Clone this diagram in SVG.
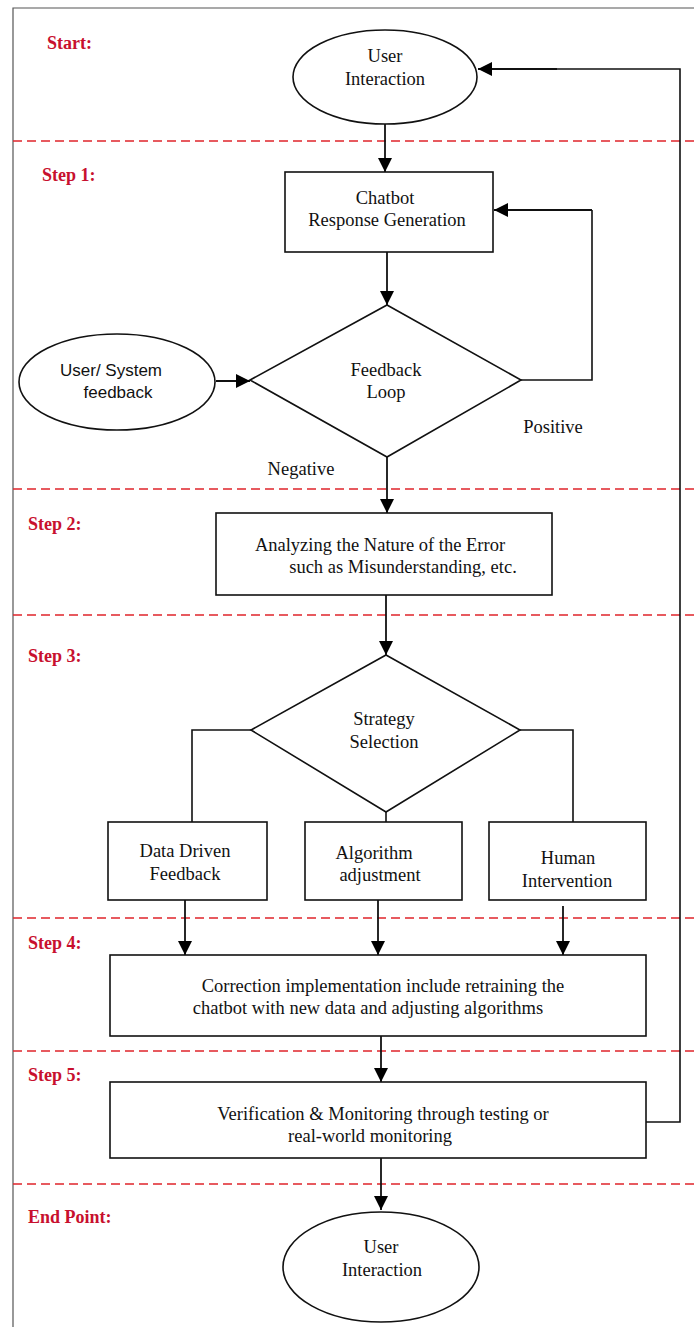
<svg xmlns="http://www.w3.org/2000/svg" width="694" height="1327" viewBox="0 0 694 1327">
<defs>
<marker id="ah" viewBox="0 0 14 14" refX="14" refY="7" markerWidth="14" markerHeight="14" markerUnits="userSpaceOnUse" orient="auto">
<path d="M0,0 L14,7 L0,14 Z" fill="#000"/>
</marker>
<style>
.t{font-family:"Liberation Serif","Times New Roman",serif;font-size:18.5px;fill:#111;text-anchor:middle}
.s{font-family:"Liberation Sans",Arial,sans-serif;font-size:17px;fill:#111;text-anchor:middle}
.lab{font-family:"Liberation Serif","Times New Roman",serif;font-size:18px;font-weight:bold;fill:#c8102e}
.shape{fill:#fff;stroke:#111;stroke-width:1.6}
.c{fill:none;stroke:#111;stroke-width:1.6}
.ca{fill:none;stroke:#111;stroke-width:1.8;marker-end:url(#ah)}
.dash{stroke:#e0252b;stroke-width:1.5;stroke-dasharray:9 5}
.border{fill:none;stroke:#555;stroke-width:1.2}
</style>
</defs>
<rect width="694" height="1327" fill="#fff"/>
<g id="frame">
<path class="border" d="M13,1327 L13,8 L694,8"/>
<line class="dash" x1="13" y1="141" x2="694" y2="141"/>
<line class="dash" x1="13" y1="489" x2="694" y2="489"/>
<line class="dash" x1="13" y1="615" x2="694" y2="615"/>
<line class="dash" x1="13" y1="918" x2="694" y2="918"/>
<line class="dash" x1="13" y1="1051" x2="694" y2="1051"/>
<line class="dash" x1="13" y1="1184" x2="694" y2="1184"/>
</g>
<g id="labels">
<text class="lab" x="47" y="49">Start:</text>
<text class="lab" x="42" y="181">Step 1:</text>
<text class="lab" x="28" y="530">Step 2:</text>
<text class="lab" x="28" y="662">Step 3:</text>
<text class="lab" x="28" y="949">Step 4:</text>
<text class="lab" x="28" y="1081">Step 5:</text>
<text class="lab" x="28" y="1223">End Point:</text>
</g>
<g id="connectors">
<line class="ca" x1="385" y1="122" x2="385" y2="172"/>
<line class="ca" x1="387" y1="252" x2="387" y2="305"/>
<path class="c" d="M521,380 L592,380 L592,210"/>
<line class="ca" x1="592" y1="210" x2="494" y2="210"/>
<line class="ca" x1="216" y1="381" x2="250" y2="381"/>
<line class="ca" x1="387" y1="457" x2="387" y2="513"/>
<line class="ca" x1="386" y1="595" x2="386" y2="655"/>
<path class="c" d="M251,730 L192,730 L192,822"/>
<path class="c" d="M520,730 L573,730 L573,822"/>
<line class="c" x1="386" y1="812" x2="386" y2="822"/>
<line class="ca" x1="185" y1="900" x2="185" y2="955"/>
<line class="ca" x1="378" y1="900" x2="378" y2="955"/>
<line class="ca" x1="563" y1="906" x2="563" y2="955"/>
<line class="ca" x1="381" y1="1036" x2="381" y2="1082"/>
<line class="ca" x1="381" y1="1158" x2="381" y2="1210"/>
<path class="c" d="M646,1122 L680,1122 L680,69 L557,69"/>
<line class="ca" x1="557" y1="69" x2="478" y2="69"/>
</g>
<g id="start">
<ellipse class="shape" cx="385" cy="77" rx="92" ry="47"/>
<text class="t" x="385" y="62">User</text>
<text class="t" x="385" y="85">Interaction</text>
</g>
<g id="chatbot">
<rect class="shape" x="285" y="172" width="208" height="80"/>
<text class="t" x="385" y="204">Chatbot</text>
<text class="t" x="387" y="226">Response Generation</text>
</g>
<g id="feedback-loop">
<path class="shape" d="M387,305 L521,380 L387,457 L250,380 Z"/>
<text class="t" x="386" y="376">Feedback</text>
<text class="t" x="386" y="398">Loop</text>
</g>
<g id="user-system-feedback">
<ellipse class="shape" cx="117" cy="382" rx="98" ry="48"/>
<text class="s" x="111" y="376">User/ System</text>
<text class="s" x="118" y="398">feedback</text>
</g>
<text class="t" x="553" y="433">Positive</text>
<text class="t" x="301" y="475">Negative</text>
<g id="analyzing">
<rect class="shape" x="216" y="513" width="336" height="82"/>
<text class="t" x="380" y="551">Analyzing the Nature of the Error</text>
<text class="t" x="403" y="573">such as Misunderstanding, etc.</text>
</g>
<g id="strategy">
<path class="shape" d="M386,655 L520,730 L386,812 L251,730 Z"/>
<text class="t" x="384" y="725">Strategy</text>
<text class="t" x="384" y="748">Selection</text>
</g>
<g id="data-driven">
<rect class="shape" x="108" y="822" width="159" height="78"/>
<text class="t" x="185" y="857">Data Driven</text>
<text class="t" x="185" y="880">Feedback</text>
</g>
<g id="algorithm">
<rect class="shape" x="305" y="822" width="157" height="78"/>
<text class="t" x="374" y="859">Algorithm</text>
<text class="t" x="380" y="881">adjustment</text>
</g>
<g id="human">
<rect class="shape" x="489" y="822" width="157" height="78"/>
<text class="t" x="568" y="864">Human</text>
<text class="t" x="567" y="887">Intervention</text>
</g>
<g id="correction">
<rect class="shape" x="110" y="955" width="536" height="81"/>
<text class="t" x="383" y="992">Correction implementation include retraining the</text>
<text class="t" x="368" y="1014">chatbot with new data and adjusting algorithms</text>
</g>
<g id="verification">
<rect class="shape" x="110" y="1082" width="536" height="76"/>
<text class="t" x="383" y="1120">Verification &amp; Monitoring through testing or</text>
<text class="t" x="370" y="1142">real-world monitoring</text>
</g>
<g id="end">
<ellipse class="shape" cx="381" cy="1267" rx="98" ry="55"/>
<text class="t" x="381" y="1253">User</text>
<text class="t" x="382" y="1276">Interaction</text>
</g>
</svg>
